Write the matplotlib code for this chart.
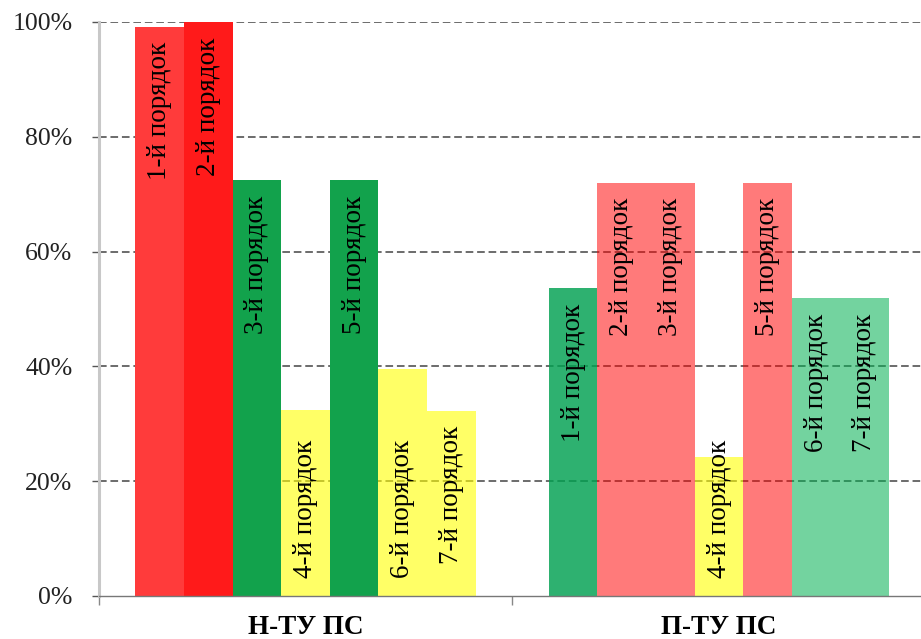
import numpy as np
import matplotlib.pyplot as plt

# share of order levels, percent
groups = ['Н-ТУ ПС', 'П-ТУ ПС']
orders = ['1-й порядок', '2-й порядок', '3-й порядок', '4-й порядок',
          '5-й порядок', '6-й порядок', '7-й порядок']
n_tu = [99.2, 100.0, 72.4, 32.4, 72.4, 39.5, 32.3]
p_tu = [53.6, 72.0, 72.0, 24.3, 72.0, 51.9, 51.9]

# bar fill (colour, alpha) per group
n_tu_colors = [('#FF3B3B', 1.0), ('#FF1A1A', 1.0), ('#12A24C', 1.0), ('#FFFF00', 0.6),
               ('#12A24C', 1.0), ('#FFFF00', 0.6), ('#FFFF00', 0.6)]
p_tu_colors = [('#00A050', 0.82), ('#FF0000', 0.52), ('#FF0000', 0.52), ('#FFFF00', 0.6),
               ('#FF0000', 0.52), ('#00B050', 0.55), ('#00B050', 0.55)]
# where the label sits: 'end' = under the top of the bar, 'base' = above the axis
n_tu_place = ['end', 'end', 'end', 'base', 'end', 'base', 'end']
p_tu_place = ['end', 'end', 'end', 'base', 'end', 'end', 'end']

plt.rcParams['font.family'] = ['Liberation Serif', 'DejaVu Serif']

W, H = 921, 639
fig = plt.figure(figsize=(W / 100, H / 100), dpi=100)
ax = fig.add_axes([98.75 / W, (H - 596) / H, 827 / W, 574 / H])

width = 1 / 8.5
series = [(n_tu, n_tu_colors, n_tu_place), (p_tu, p_tu_colors, p_tu_place)]
for g, (vals, cols, places) in enumerate(series):
    for i, v in enumerate(vals):
        x = g + (i - 3) * width
        col, a = cols[i]
        ax.bar(x, v, width=width, color=col, alpha=a, linewidth=0, zorder=2)
        if places[i] == 'end':
            ax.annotate(orders[i], (x, v), xytext=(0, -11), textcoords='offset points',
                        rotation=90, ha='center', va='top', fontsize=19.5, zorder=3)
        else:
            ax.annotate(orders[i], (x, 0), xytext=(0, 13), textcoords='offset points',
                        rotation=90, ha='center', va='bottom', fontsize=19.5, zorder=3)

ax.set_xlim(-0.5, 1.5)
ax.set_ylim(0, 100)

yt = [0, 20, 40, 60, 80, 100]
ax.set_yticks(yt, [f'{v}%' for v in yt])
ax.tick_params(axis='y', length=5, width=1, color='#555555', pad=14,
               labelsize=18.5, labelcolor='#222222')
for v in yt[1:]:
    ax.axhline(v, color='#444444', lw=1.1, ls=(0, (5, 2.5)), zorder=1)

ax.set_xticks([-0.5, 0.5, 1.5], ['', '', ''])
ax.tick_params(axis='x', which='major', length=6.5, width=1, color='#888888')
ax.set_xticks([0, 1], groups, minor=True)
ax.tick_params(axis='x', which='minor', length=0, pad=14, labelsize=19.5)
for lbl in ax.get_xticklabels(minor=True):
    lbl.set_fontweight('bold')

ax.spines['top'].set_visible(False)
ax.spines['right'].set_visible(False)
ax.spines['left'].set_color('#C8C8C8')
ax.spines['left'].set_linewidth(2.2)
ax.spines['bottom'].set_color('#777777')
ax.spines['bottom'].set_linewidth(1)
ax.spines['bottom'].set_zorder(4)

fig.savefig('out.png', dpi=100)
